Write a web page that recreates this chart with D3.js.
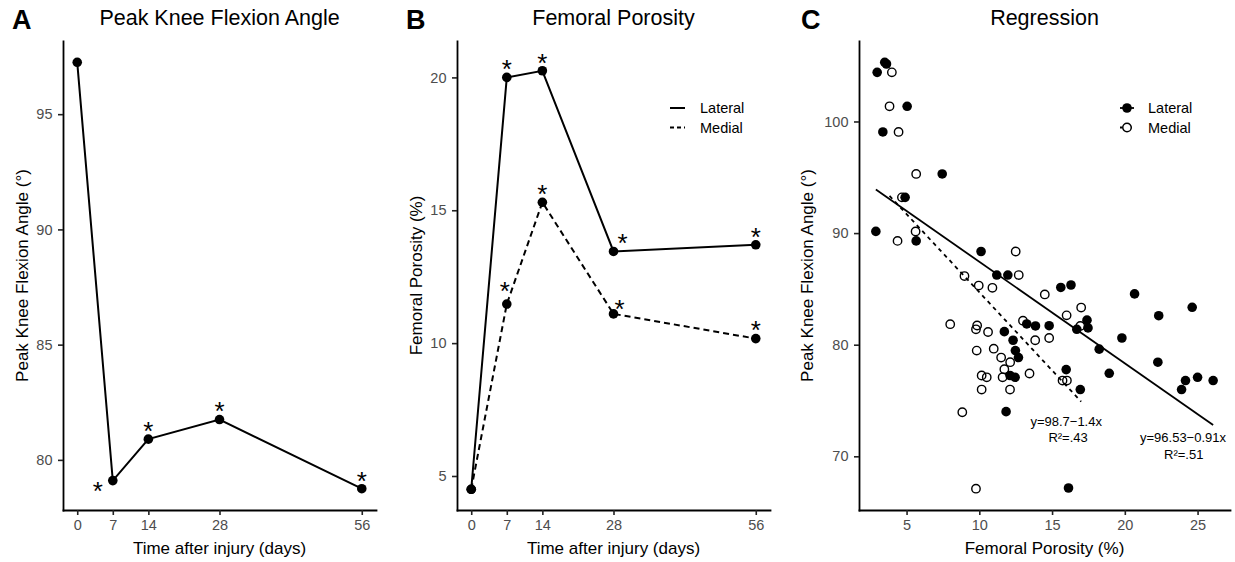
<!DOCTYPE html>
<html>
<head>
<meta charset="utf-8">
<script src="https://cdn.jsdelivr.net/npm/d3@7"></script>
<style>
  body { margin: 0; background: #fff; }
  text { font-family: "Liberation Sans", Arial, Helvetica, sans-serif; }
</style>
</head>
<body>
<div id="chart"></div>
<script>
/**
 * DATA
 * */
const days = [0, 7, 14, 28, 56];
const kneeAngle = [97.25, 79.1, 80.9, 81.75, 78.75];
const porosityLateral = [4.5, 20.0, 20.25, 13.45, 13.7];
const porosityMedial = [4.5, 11.47, 15.3, 11.1, 10.17];

const kneeTicks = [80, 85, 90, 95];
const porosityTicks = [5, 10, 15, 20];
const regXTicks = [5, 10, 15, 20, 25];
const regYTicks = [70, 80, 90, 100];

// days that carry a significance star
const kneeStars = [7, 14, 28, 56];
const lateralStars = [7, 14, 28, 56];
const medialStars = [7, 14, 28, 56];

// regression scatter: [femoral porosity %, peak knee flexion angle]
const lateralPoints = [
  [3.5, 105.3], [3.62, 105.15], [2.98, 104.4], [5.04, 101.36], [3.37, 99.06],
  [7.45, 95.3], [4.9, 93.2], [2.89, 90.15], [5.66, 89.3], [10.12, 88.35],
  [11.2, 86.24], [11.96, 86.24], [15.6, 85.13], [16.3, 85.35], [20.67, 84.55],
  [24.63, 83.35], [22.33, 82.6], [17.4, 82.2], [17.47, 81.5], [16.7, 81.38],
  [13.26, 81.86], [13.86, 81.68], [14.8, 81.7], [11.72, 81.17], [12.32, 80.4],
  [12.48, 79.47], [12.69, 78.85], [19.8, 80.6], [18.24, 79.6], [22.27, 78.43],
  [15.97, 77.77], [12.11, 77.24], [12.46, 77.08], [18.93, 77.44], [16.94, 75.98],
  [23.9, 75.98], [24.17, 76.79], [25.0, 77.08], [26.07, 76.79], [11.84, 74.0],
  [16.13, 67.16]
];
const medialPoints = [
  [3.99, 104.4], [3.83, 101.36], [4.45, 99.06], [5.66, 95.3], [4.68, 93.2],
  [4.38, 89.3], [5.62, 90.15], [12.5, 88.35], [12.71, 86.24], [8.98, 86.15],
  [9.96, 85.3], [10.9, 85.1], [14.5, 84.5], [17.0, 83.33], [16.0, 82.63],
  [16.94, 81.68], [8.0, 81.84], [9.85, 81.72], [9.77, 81.38], [10.6, 81.14],
  [13.0, 82.15], [13.84, 80.4], [14.8, 80.6], [9.82, 79.47], [10.99, 79.64],
  [11.5, 78.85], [12.12, 78.43], [11.72, 77.8], [13.45, 77.42], [10.16, 77.24],
  [10.51, 77.08], [11.6, 77.08], [15.72, 76.79], [16.02, 76.79], [10.16, 75.98],
  [12.11, 75.98], [8.83, 73.95], [9.77, 67.1]
];

// fitted lines: intercept, slope
const lateralFit = [96.53, -0.91];
const medialFit = [98.7, -1.4];
const fitLabels = ["y=96.53\u22120.91x", "R\u00b2=.51", "y=98.7\u22121.4x", "R\u00b2=.43"];

/**
 * CONSTANTS AND GLOBALS
 * */
const width = 1235,
  height = 562,
  plotTop = 41,
  plotBottom = 510;

const font = '"Liberation Sans", Arial, Helvetica, sans-serif';
const tickColor = "#4d4d4d";

let svg;

function expand(ext) {
  const r = ext[1] - ext[0];
  return [ext[0] - r * 0.05, ext[1] + r * 0.05];
}

/**
 * INIT
 * */
init();

function init() {
  svg = d3.select("#chart")
    .append("svg")
    .attr("width", width)
    .attr("height", height)
    .style("background", "#fff");

  drawPanelA();
  drawPanelB();
  drawPanelC();
}

// axes in ggplot theme_classic style
function drawAxes(x, y, xTicks, yTicks) {
  const xAxis = svg.append("g")
    .attr("transform", `translate(0, ${plotBottom})`)
    .call(d3.axisBottom(x).tickValues(xTicks).tickSize(5).tickSizeOuter(0).tickPadding(5));
  const yAxis = svg.append("g")
    .attr("transform", `translate(${x.range()[0]}, 0)`)
    .call(d3.axisLeft(y).tickValues(yTicks).tickSize(5).tickSizeOuter(0).tickPadding(5.5));

  [xAxis, yAxis].forEach(g => {
    g.attr("font-family", font).attr("font-size", 14.5);
    g.select(".domain").attr("stroke", "#000").attr("stroke-width", 1.8).attr("stroke-linecap", "square");
    g.selectAll(".tick line").attr("stroke", "#222").attr("stroke-width", 1.6);
    g.selectAll(".tick text").attr("fill", tickColor);
  });
}

function drawLabels(panel, letter, title, xTitle, yTitle, yTitleX) {
  const cx = (panel.left + panel.right) / 2;
  svg.append("text")
    .attr("x", panel.letterX).attr("y", 29)
    .attr("font-size", 27).attr("font-weight", "bold")
    .text(letter);
  svg.append("text")
    .attr("x", cx).attr("y", 25)
    .attr("text-anchor", "middle").attr("font-size", 21.5)
    .text(title);
  svg.append("text")
    .attr("x", cx).attr("y", 553.5)
    .attr("text-anchor", "middle").attr("font-size", 17)
    .text(xTitle);
  svg.append("text")
    .attr("transform", `translate(${yTitleX}, ${(plotTop + plotBottom) / 2}) rotate(-90)`)
    .attr("dy", "0.35em")
    .attr("text-anchor", "middle").attr("font-size", 17)
    .text(yTitle);
}

function drawStars(x, y, series, starDays, nudge) {
  const fs = 26;
  svg.append("g")
    .selectAll("text")
    .data(starDays)
    .join("text")
    .attr("x", d => x(d) + ((nudge[d] || {}).dx || 0))
    .attr("y", d => y(series[days.indexOf(d)]) + ((nudge[d] || {}).dy ?? -14) + fs * 0.57)
    .attr("text-anchor", "middle")
    .attr("font-size", fs)
    .text("*");
}

function drawSeries(x, y, values, dash) {
  const pts = days.map((d, i) => ({ day: d, value: values[i] }));
  const line = d3.line().x(d => x(d.day)).y(d => y(d.value));
  svg.append("path")
    .datum(pts)
    .attr("d", line)
    .attr("fill", "none")
    .attr("stroke", "#000")
    .attr("stroke-width", 2)
    .attr("stroke-dasharray", dash);
  svg.append("g")
    .selectAll("circle")
    .data(pts)
    .join("circle")
    .attr("cx", d => x(d.day))
    .attr("cy", d => y(d.value))
    .attr("r", 4.8)
    .attr("fill", "#000");
}

/**
 * PANEL A
 * */
function drawPanelA() {
  const panel = { left: 63, right: 376, letterX: 12 };
  const x = d3.scaleLinear().domain(expand(d3.extent(days))).range([panel.left, panel.right]);
  const y = d3.scaleLinear().domain(expand(d3.extent(kneeAngle))).range([plotBottom, plotTop]);

  drawAxes(x, y, days, kneeTicks);
  drawSeries(x, y, kneeAngle, null);
  drawStars(x, y, kneeAngle, kneeStars, { 7: { dx: -15, dy: 5 } });
  drawLabels(panel, "A", "Peak Knee Flexion Angle", "Time after injury (days)",
    "Peak Knee Flexion Angle (\u00b0)", 22);
}

/**
 * PANEL B
 * */
function drawPanelB() {
  const panel = { left: 457, right: 770, letterX: 406 };
  const x = d3.scaleLinear().domain(expand(d3.extent(days))).range([panel.left, panel.right]);
  const y = d3.scaleLinear().domain([3.72, 21.37]).range([plotBottom, plotTop]);

  drawAxes(x, y, days, porosityTicks);
  drawSeries(x, y, porosityMedial, "6,4");
  drawSeries(x, y, porosityLateral, null);
  drawStars(x, y, porosityLateral, lateralStars, { 28: { dx: 9 } });
  drawStars(x, y, porosityMedial, medialStars, { 7: { dx: -2, dy: -19 }, 28: { dx: 6, dy: -11 } });
  drawLabels(panel, "B", "Femoral Porosity", "Time after injury (days)",
    "Femoral Porosity (%)", 416);

  // legend
  const legend = svg.append("g").attr("transform", "translate(670, 108)");
  [["Lateral", null], ["Medial", "4,3"]].forEach(([name, dash], i) => {
    legend.append("line")
      .attr("x1", 0).attr("x2", 15).attr("y1", i * 19.5).attr("y2", i * 19.5)
      .attr("stroke", "#000").attr("stroke-width", 2).attr("stroke-dasharray", dash);
    legend.append("text")
      .attr("x", 30).attr("y", i * 19.5).attr("dy", "0.35em")
      .attr("font-size", 14.5)
      .text(name);
  });
}

/**
 * PANEL C
 * */
function drawPanelC() {
  const panel = { left: 859, right: 1230, letterX: 801 };
  const all = lateralPoints.concat(medialPoints);
  const x = d3.scaleLinear().domain(expand(d3.extent(all, d => d[0]))).range([panel.left, panel.right]);
  const y = d3.scaleLinear().domain(expand(d3.extent(all, d => d[1]))).range([plotBottom, plotTop]);

  drawAxes(x, y, regXTicks, regYTicks);

  // points: medial hollow, lateral filled
  svg.append("g")
    .selectAll("circle")
    .data(medialPoints)
    .join("circle")
    .attr("cx", d => x(d[0]))
    .attr("cy", d => y(d[1]))
    .attr("r", 4.2)
    .attr("fill", "none")
    .attr("stroke", "#000")
    .attr("stroke-width", 1.4);
  svg.append("g")
    .selectAll("circle")
    .data(lateralPoints)
    .join("circle")
    .attr("cx", d => x(d[0]))
    .attr("cy", d => y(d[1]))
    .attr("r", 4.8)
    .attr("fill", "#000");

  // fitted lines across each group's x range
  [[lateralPoints, lateralFit, null], [medialPoints, medialFit, "4,4"]].forEach(([pts, fit, dash]) => {
    const ext = d3.extent(pts, d => d[0]);
    svg.append("line")
      .attr("x1", x(ext[0])).attr("y1", y(fit[0] + fit[1] * ext[0]))
      .attr("x2", x(ext[1])).attr("y2", y(fit[0] + fit[1] * ext[1]))
      .attr("stroke", "#000")
      .attr("stroke-width", 1.8)
      .attr("stroke-dasharray", dash);
  });

  // equation labels
  const labelPos = [[24.0, 71.65], [24.05, 70.17], [15.97, 73.15], [16.1, 71.65]];
  svg.append("g")
    .selectAll("text")
    .data(fitLabels)
    .join("text")
    .attr("x", (d, i) => x(labelPos[i][0]))
    .attr("y", (d, i) => y(labelPos[i][1]))
    .attr("dy", "0.35em")
    .attr("text-anchor", "middle")
    .attr("font-size", 13)
    .text(d => d);

  drawLabels(panel, "C", "Regression", "Femoral Porosity (%)",
    "Peak Knee Flexion Angle (\u00b0)", 807);

  // legend
  const legend = svg.append("g").attr("transform", "translate(1127, 108)");
  [["Lateral", "#000", null], ["Medial", "none", "4,4"]].forEach(([name, fill, dash], i) => {
    legend.append("line")
      .attr("x1", -7).attr("x2", 7).attr("y1", i * 19.5).attr("y2", i * 19.5)
      .attr("stroke", "#000").attr("stroke-width", 1.8).attr("stroke-dasharray", dash);
    legend.append("circle")
      .attr("cx", 0).attr("cy", i * 19.5)
      .attr("r", fill === "none" ? 4.2 : 4.8)
      .attr("fill", fill === "none" ? "#fff" : fill)
      .attr("stroke", "#000").attr("stroke-width", fill === "none" ? 1.4 : 0);
    legend.append("text")
      .attr("x", 21).attr("y", i * 19.5).attr("dy", "0.35em")
      .attr("font-size", 14.5)
      .text(name);
  });
}
</script>
</body>
</html>
